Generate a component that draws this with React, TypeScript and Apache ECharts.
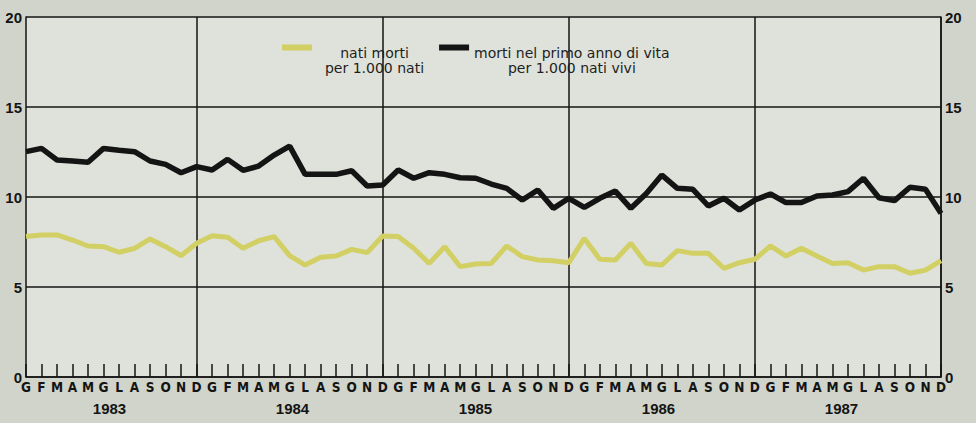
import React, { useEffect, useRef } from "react";
import * as echarts from "echarts";

const years = ["1983", "1984", "1985", "1986", "1987"];
const months = ["G", "F", "M", "A", "M", "G", "L", "A", "S", "O", "N", "D"];
const yTicks = { min: 0, max: 20, interval: 5 };

const categories = years.flatMap((y) => months.map((m, i) => `${y}-${i}-${m}`));

const seriesNames = ["nati morti\nper 1.000 nati", "morti nel primo anno di vita\nper 1.000 nati vivi"];

const natiMorti = [
  7.8, 7.89, 7.89, 7.61, 7.28, 7.24, 6.93, 7.15, 7.67, 7.24, 6.74, 7.43,
  7.85, 7.76, 7.15, 7.57, 7.8, 6.74, 6.22, 6.65, 6.72, 7.09, 6.91, 7.83,
  7.8, 7.15, 6.31, 7.24, 6.13, 6.28, 6.31, 7.28, 6.69, 6.5, 6.46, 6.35,
  7.7, 6.54, 6.5, 7.43, 6.31, 6.22, 7.02, 6.87, 6.87, 6.04, 6.35, 6.54,
  7.28, 6.72, 7.15, 6.72, 6.31, 6.35, 5.94, 6.13, 6.13, 5.76, 5.94, 6.46,
];

const mortiPrimoAnno = [
  12.52, 12.7, 12.06, 12.0, 11.93, 12.7, 12.6, 12.52, 12.0, 11.81, 11.35, 11.69,
  11.5, 12.09, 11.48, 11.72, 12.33, 12.83, 11.26, 11.26, 11.26, 11.46, 10.61, 10.67,
  11.5, 11.04, 11.35, 11.26, 11.07, 11.04, 10.72, 10.48, 9.83, 10.39, 9.37, 9.93,
  9.43, 9.93, 10.33, 9.37, 10.2, 11.22, 10.48, 10.43, 9.5, 9.93, 9.28, 9.83,
  10.17, 9.69, 9.69, 10.06, 10.11, 10.3, 11.04, 9.96, 9.8, 10.54, 10.43, 9.09,
];

const INK = "#141414";
const YELLOW = "#d2d064";

export default function App() {
  const ref = useRef<HTMLDivElement>(null);
  useEffect(() => {
    if (!ref.current) return;
    const chart = echarts.init(ref.current, null, { renderer: "svg" });
    const numFont = "'Liberation Sans', Arial, sans-serif";
    const legendFont = "'DejaVu Sans', sans-serif";
    const legendText = (extraLeft: number) => ({
      fontFamily: legendFont,
      fontSize: 14,
      color: "#1e1e1e",
      lineHeight: 15,
      padding: [25, 0, 0, extraLeft],
      rich: { c: { align: "center", fontFamily: legendFont, fontSize: 14, lineHeight: 15, color: "#1e1e1e" } },
    });
    chart.setOption({
      animation: false,
      backgroundColor: "#d1d4ca",
      grid: {
        left: 26,
        right: 35,
        top: 17,
        bottom: 46,
        show: true,
        backgroundColor: "#dee2da",
        borderWidth: 0,
      },
      legend: {
        left: 282,
        top: 20,
        padding: 0,
        icon: "rect",
        itemWidth: 30,
        itemHeight: 6,
        itemGap: 15,
        formatter: (name: string) =>
          name
            .split("\n")
            .map((l) => `{c|${l}}`)
            .join("\n"),
        data: [
          { name: seriesNames[0], textStyle: legendText(8) },
          { name: seriesNames[1], textStyle: legendText(0) },
        ],
      },
      xAxis: [
        {
          type: "category",
          data: categories,
          boundaryGap: false,
          axisLine: { show: true, lineStyle: { color: INK, width: 1.5 } },
          axisTick: {
            show: true,
            inside: true,
            length: 13,
            interval: 0,
            lineStyle: { color: INK, width: 1.5 },
          },
          axisLabel: {
            interval: 0,
            margin: 3,
            formatter: (v: string) => v.split("-")[2],
            fontFamily: "'Liberation Sans Narrow', 'DejaVu Sans Condensed', sans-serif",
            fontWeight: "bold",
            fontSize: 13.5,
            color: INK,
          },
          splitLine: {
            show: true,
            interval: (index: number) => index % 12 === 11,
            lineStyle: { color: INK, width: 1.5 },
          },
        },
        {
          type: "category",
          data: years,
          position: "bottom",
          offset: 24,
          boundaryGap: true,
          axisLine: { show: false },
          axisTick: { show: false },
          splitLine: { show: false },
          axisLabel: {
            interval: 0,
            margin: 0,
            padding: [0, 16, 0, 0],
            fontFamily: numFont,
            fontWeight: "bold",
            fontSize: 15,
            color: INK,
          },
        },
      ],
      yAxis: [
        {
          type: "value",
          ...yTicks,
          position: "left",
          axisLine: { show: true, lineStyle: { color: INK, width: 1.5 } },
          axisTick: { show: false },
          axisLabel: { margin: 4, fontFamily: numFont, fontWeight: "bold", fontSize: 15, color: INK },
          splitLine: { show: true, lineStyle: { color: INK, width: 1.5 } },
        },
        {
          type: "value",
          ...yTicks,
          position: "right",
          axisLine: { show: true, lineStyle: { color: INK, width: 1.5 } },
          axisTick: { show: false },
          axisLabel: { margin: 4, fontFamily: numFont, fontWeight: "bold", fontSize: 15, color: INK },
          splitLine: { show: false },
        },
      ],
      series: [
        {
          name: seriesNames[0],
          type: "line",
          data: natiMorti,
          showSymbol: false,
          color: YELLOW,
          itemStyle: { color: YELLOW },
          lineStyle: { color: YELLOW, width: 5 },
          z: 3,
        },
        {
          name: seriesNames[1],
          type: "line",
          data: mortiPrimoAnno,
          showSymbol: false,
          color: INK,
          itemStyle: { color: INK },
          lineStyle: { color: INK, width: 5.5 },
          z: 4,
        },
      ],
    });
    return () => chart.dispose();
  }, []);
  return (
    <div
      ref={ref}
      style={{ position: "fixed", left: 0, top: 0, width: 976, height: 423 }}
    />
  );
}
